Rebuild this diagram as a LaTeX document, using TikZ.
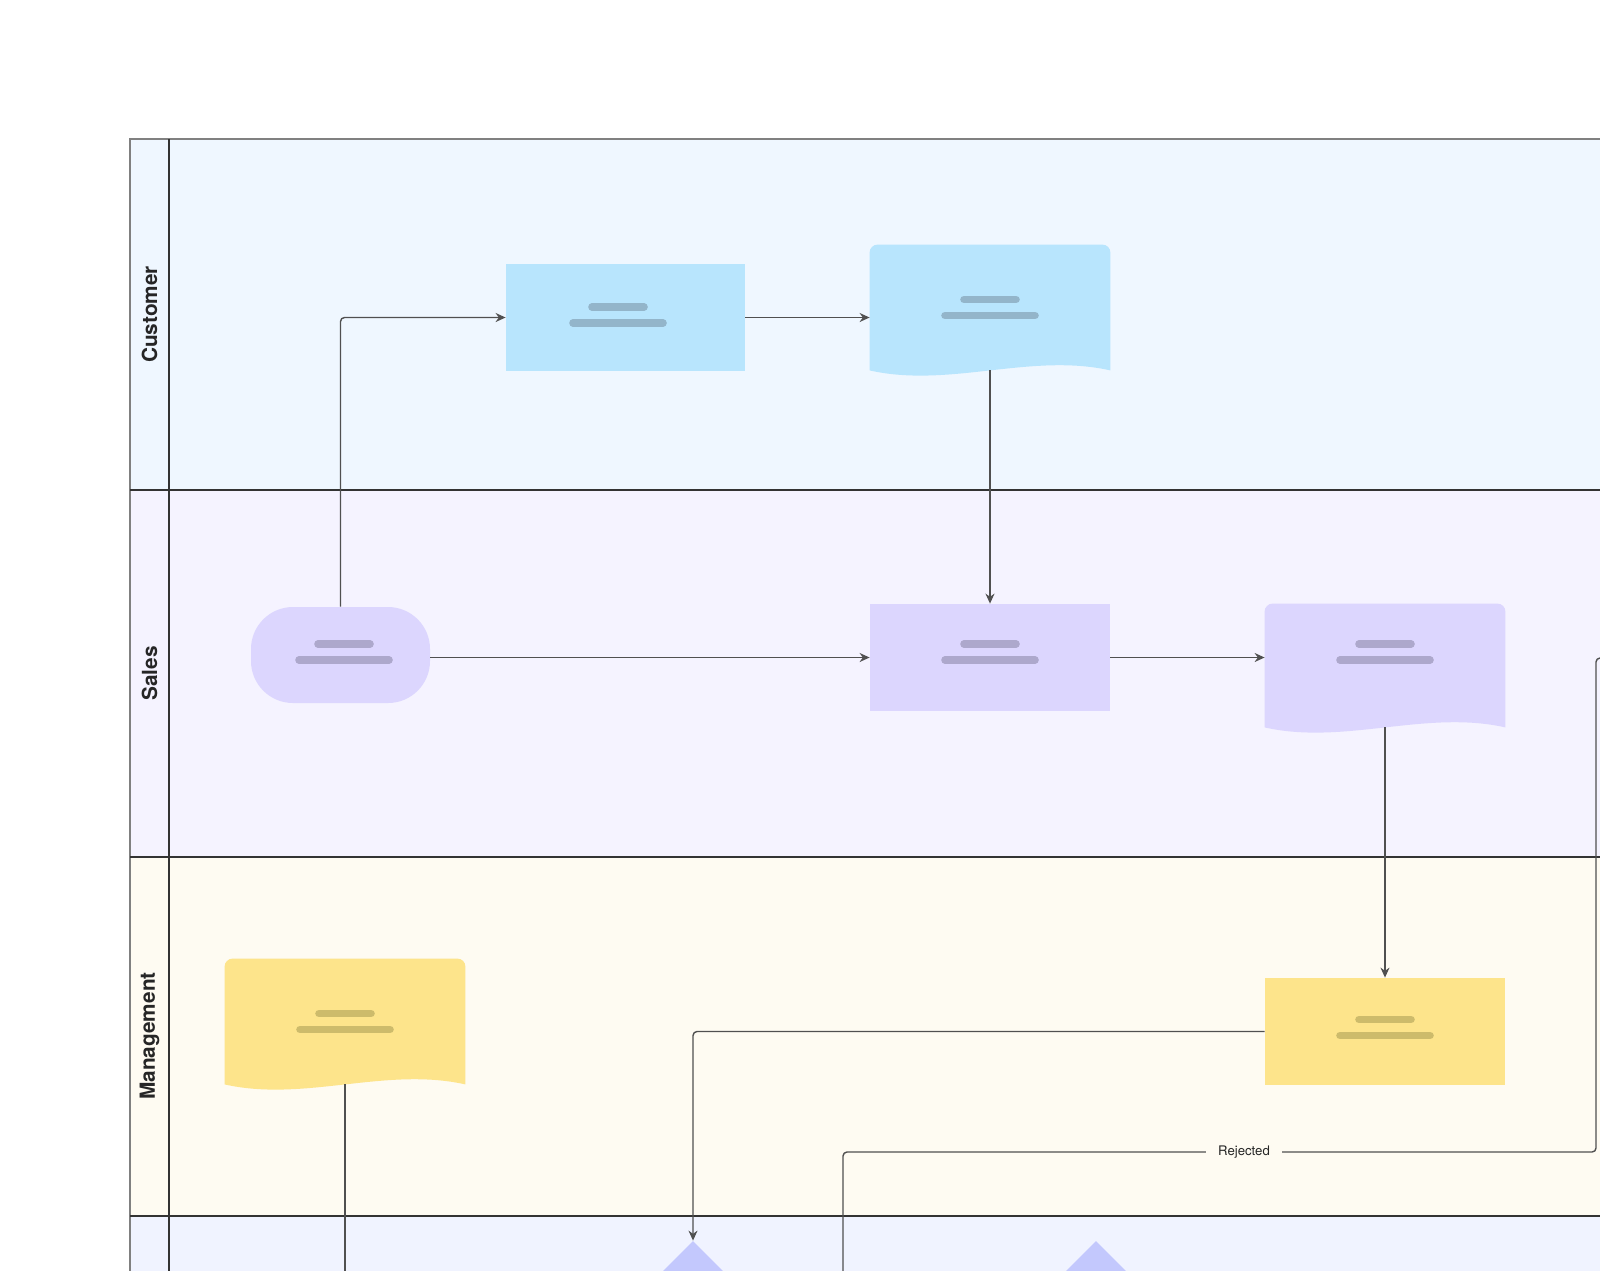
\documentclass[tikz,border=0pt]{standalone}
\usepackage{fontspec}
\setmainfont{TeX Gyre Heros}
\usepackage{tikz}
\usetikzlibrary{shapes.geometric, arrows.meta, calc}

\definecolor{lanecust}{HTML}{EFF7FF}
\definecolor{lanesales}{HTML}{F5F3FF}
\definecolor{lanemgmt}{HTML}{FEFBF2}
\definecolor{lanenext}{HTML}{F0F3FF}
\definecolor{laneline}{HTML}{333333}
\definecolor{linedark}{HTML}{505050}
\definecolor{blueshape}{HTML}{B8E5FD}
\definecolor{bluebar}{HTML}{93B5CA}
\definecolor{purpshape}{HTML}{DCD6FE}
\definecolor{purpbar}{HTML}{ADA8CC}
\definecolor{yellshape}{HTML}{FDE48B}
\definecolor{yellbar}{HTML}{CDBB6B}
\definecolor{decfill}{HTML}{C3C8FD}

\tikzset{
  lane/.style = {draw=laneline, line width=0.55pt},
  lanehdr/.style = {
    rotate=90, text=black!85,
    font=\bfseries\fontsize{10.4}{12}\selectfont
  },
  procbox/.style = {
    rectangle, minimum width=120pt,
    minimum height=53.5pt, inner sep=0pt
  },
  docbox/.style = {
    rectangle, minimum width=120pt,
    minimum height=62.5pt, inner sep=0pt
  },
  termbox/.style = {
    rectangle, rounded corners=21pt, fill=purpshape,
    minimum width=89.5pt, minimum height=48pt, inner sep=0pt
  },
  decbox/.style = {
    diamond, fill=decfill, minimum width=60pt,
    minimum height=60pt, inner sep=0pt
  },
  arr/.style   = {-{Stealth[length=5pt,width=4.5pt]}, draw=linedark,
                  line width=0.7pt, rounded corners=2pt},
  plain/.style = {draw=linedark, line width=0.7pt, rounded corners=2pt}
}

% document shape: rounded top, wavy bottom
\newcommand{\docfill}[2]{%
  \fill[#2] (#1.south west) -- ($(#1.north west)+(0pt,-4pt)$)
    arc[start angle=180, end angle=90, radius=4pt]
    -- ($(#1.north east)+(-4pt,0pt)$)
    arc[start angle=90, end angle=0, radius=4pt]
    -- (#1.south east)
    .. controls ($(#1.south east)+(-40pt,9pt)$)
    and ($(#1.south west)+(40pt,-9pt)$) .. (#1.south west) -- cycle;
}
% two placeholder text bars, optional offset from the centre
\newcommand{\lanebars}[3][(0pt,0pt)]{%
  \draw[#3, line width=3.8pt, line cap=round]
    ($(#2.center)+#1+(-13pt,4pt)$) -- ++(26pt,0pt);
  \draw[#3, line width=3.8pt, line cap=round]
    ($(#2.center)+#1+(-22.5pt,-4pt)$) -- ++(45pt,0pt);
}

\begin{document}
\begin{tikzpicture}[x=0.5pt, y=-0.5pt]

\useasboundingbox (0,0) rectangle (1600,1270);
\fill[white] (0,0) rectangle (1600,1270);
\clip (0,0) rectangle (1600,1270);

%% Lanes
\fill[lanecust]  (130,139)  rectangle (1640,490);
\fill[lanesales] (130,490)  rectangle (1640,857);
\fill[lanemgmt]  (130,857)  rectangle (1640,1216);
\fill[lanenext]  (130,1216) rectangle (1640,1320);
\draw[lane, draw=gray] (1640,139) -- (130,139) -- (130,1320);
\draw[lane] (169,139) -- (169,1320);
\draw[lane] (130,490)  -- (1640,490);
\draw[lane] (130,857)  -- (1640,857);
\draw[lane] (130,1216) -- (1640,1216);

\node[lanehdr] (hcust)  at (149.5,314.5) {Customer};
\node[lanehdr] (hsales) at (149.5,673.5) {Sales};
\node[lanehdr] (hmgmt)  at (149.5,1036)  {Management};

%% Customer
\node[procbox, fill=blueshape, minimum width=119.5pt]
      (cbox) at (625.5,317.5) {};
\node[docbox] (cdoc) at (990,307.5) {};
\docfill{cdoc}{blueshape}

%% Sales
\node[termbox] (sterm) at (340.5,655) {};
\node[procbox, fill=purpshape] (sproc) at (990,657.5) {};
\node[docbox, minimum height=61.5pt] (sdoc) at (1385,665.5) {};
\docfill{sdoc}{purpshape}

%% Management
\node[docbox] (mdoc) at (345,1021.5) {};
\docfill{mdoc}{yellshape}
\node[procbox, fill=yellshape] (mproc) at (1385,1031.5) {};

%% Next lane (decisions)
\node[decbox] (dec1) at (693,1301) {};
\node[decbox] (dec2) at (1096,1301) {};

%% Text bars
\lanebars[(-3.75pt,1.25pt)]{cbox}{bluebar}
\lanebars{cdoc}{bluebar}
\lanebars[(1.75pt,1.5pt)]{sterm}{purpbar}
\lanebars[(0pt,2.75pt)]{sproc}{purpbar}
\lanebars[(0pt,6.75pt)]{sdoc}{purpbar}
\lanebars{mdoc}{yellbar}
\lanebars[(0pt,2pt)]{mproc}{yellbar}

%% Arrows
\draw[arr] (sterm.north) |- (cbox.west);
\draw[arr] (cbox.east) -- (cbox.east -| cdoc.west);
\draw[arr] (cdoc.south) -- (sproc.north);
\draw[arr] (sterm.east |- sproc.west) -- (sproc.west);
\draw[arr] (sproc.east) -- (sproc.east -| sdoc.west);
\draw[arr] (sdoc.south) -- (mproc.north);
\draw[arr] (mproc.west) -| (dec1.north);

%% Leaving the view
\coordinate (mdocout) at (345,1320);
\draw[plain] (mdoc.south) -- (mdocout);

\coordinate (rjin)   at (1640,658);
\coordinate (rjturn) at (1596,1152);
\coordinate (rjout)  at (843,1320);
\draw[plain] (rjin) -| (rjturn) -| (rjout);
\node[fill=lanemgmt, inner xsep=6pt, inner ysep=2pt,
      font=\fontsize{6.6}{8}\selectfont, text=black!85]
      (rjlbl) at (1244,1152) {Rejected};

\end{tikzpicture}
\end{document}
